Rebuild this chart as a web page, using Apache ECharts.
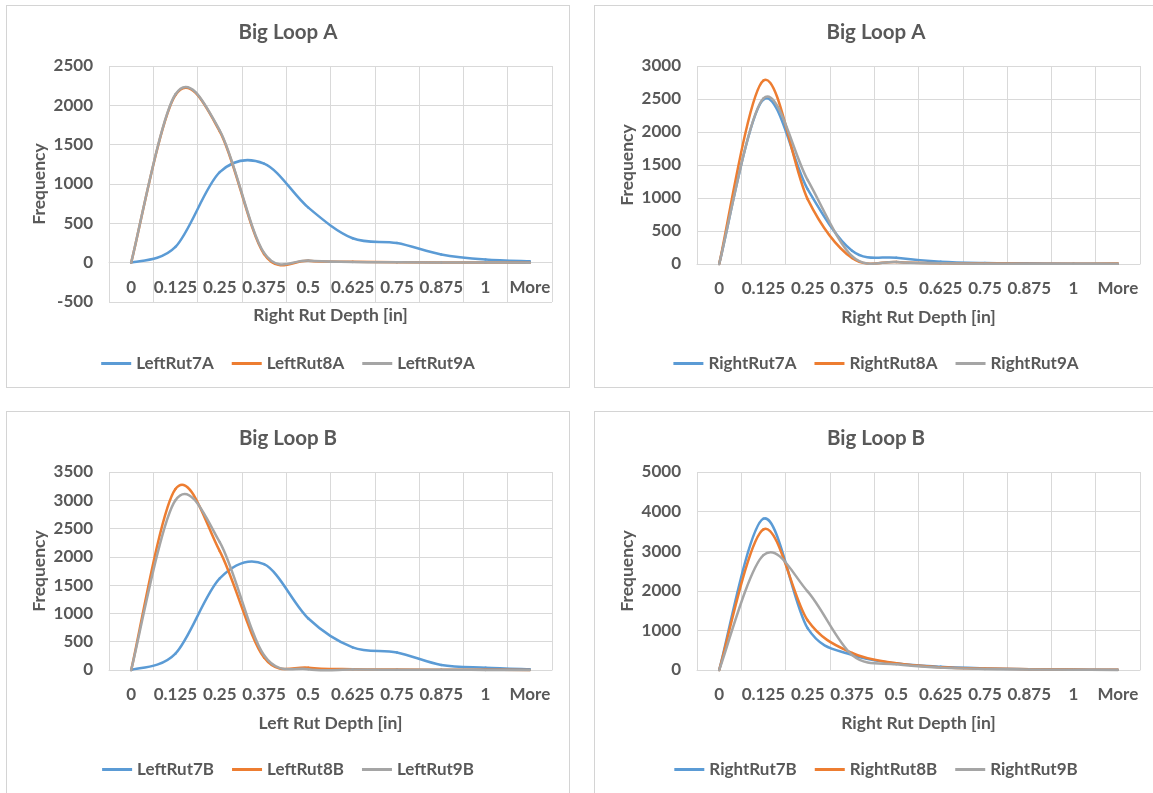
<!DOCTYPE html>
<html>
<head>
<meta charset="utf-8">
<script src="https://cdn.jsdelivr.net/npm/echarts@6/dist/echarts.min.js"></script>
<style>
  html, body { margin: 0; padding: 0; background: #fff; overflow: hidden; width: 1153px; height: 793px; }
  .panel { position: absolute; width: 564px; box-shadow: inset 0 0 0 1px #d4d4d4; }
</style>
</head>
<body>
<div id="p1" class="panel" style="left:6px;top:5px;height:383px"></div>
<div id="p2" class="panel" style="left:594px;top:5px;height:383px"></div>
<div id="p3" class="panel" style="left:6px;top:411px;height:390px"></div>
<div id="p4" class="panel" style="left:594px;top:411px;height:390px"></div>
<script>
// Rut depth bins (inches)
const categories = ['0', '0.125', '0.25', '0.375', '0.5', '0.625', '0.75', '0.875', '1', 'More'];

// Big Loop A – left rut frequencies
const leftRut7A = [0, 200, 1150, 1260, 700, 310, 250, 105, 40, 18];
const leftRut8A = [0, 2130, 1670, 110, 25, 12, 5, 2, 1, 0];
const leftRut9A = [0, 2140, 1680, 125, 28, 10, 4, 2, 1, 0];

// Big Loop A – right rut frequencies
const rightRut7A = [0, 2490, 1130, 200, 95, 35, 15, 10, 5, 5];
const rightRut8A = [0, 2780, 980, 90, 30, 10, 8, 5, 3, 8];
const rightRut9A = [0, 2510, 1270, 120, 30, 10, 5, 5, 3, 3];

// Big Loop B – left rut frequencies
const leftRut7B = [0, 290, 1620, 1870, 910, 400, 310, 90, 41, 15];
const leftRut8B = [0, 3200, 2100, 220, 40, 15, 8, 5, 3, 2];
const leftRut9B = [0, 3000, 2260, 260, 15, 8, 5, 3, 2, 1];

// Big Loop B – right rut frequencies
const rightRut7B = [0, 3820, 1050, 380, 170, 80, 40, 20, 10, 5];
const rightRut8B = [0, 3550, 1250, 430, 170, 70, 35, 20, 10, 5];
const rightRut9B = [0, 2900, 1980, 380, 143, 60, 25, 15, 8, 3];

const seriesColors = ['#5B9BD5', '#ED7D31', '#A5A5A5'];
const textColor = '#595959';
const gridColor = '#d9d9d9';
const fontFamily = 'Lato, "Noto Sans", sans-serif';

const panels = [
  { id: 'p1', title: 'Big Loop A', xName: 'Right Rut Depth [in]', yMin: -500, yMax: 2500, yStep: 500, gridHeight: 236,
    names: ['LeftRut7A', 'LeftRut8A', 'LeftRut9A'], data: [leftRut7A, leftRut8A, leftRut9A] },
  { id: 'p2', title: 'Big Loop A', xName: 'Right Rut Depth [in]', yMin: 0, yMax: 3000, yStep: 500, gridHeight: 198,
    names: ['RightRut7A', 'RightRut8A', 'RightRut9A'], data: [rightRut7A, rightRut8A, rightRut9A] },
  { id: 'p3', title: 'Big Loop B', xName: 'Left Rut Depth [in]', yMin: 0, yMax: 3500, yStep: 500, gridHeight: 198,
    names: ['LeftRut7B', 'LeftRut8B', 'LeftRut9B'], data: [leftRut7B, leftRut8B, leftRut9B] },
  { id: 'p4', title: 'Big Loop B', xName: 'Right Rut Depth [in]', yMin: 0, yMax: 5000, yStep: 1000, gridHeight: 198,
    names: ['RightRut7B', 'RightRut8B', 'RightRut9B'], data: [rightRut7B, rightRut8B, rightRut9B] }
];

// Smoothed line drawn as cubic Bézier segments through every point
// (Catmull-Rom tangents), one segment per data item, positioned with api.coord.
function smoothLineSeries(name, values, color) {
  return {
    name: name,
    type: 'custom',
    coordinateSystem: 'cartesian2d',
    data: values.map(function (v, i) { return [i, v]; }),
    encode: { x: 0, y: 1 },
    itemStyle: { color: color },
    clip: false,
    renderItem: function (params, api) {
      const i = params.dataIndex;
      if (i >= values.length - 1) return null;
      const at = function (k) {
        k = Math.max(0, Math.min(values.length - 1, k));
        return api.coord([k, values[k]]);
      };
      const p0 = at(i - 1), p1 = at(i), p2 = at(i + 1), p3 = at(i + 2);
      return {
        type: 'bezierCurve',
        shape: {
          x1: p1[0], y1: p1[1],
          cpx1: p1[0] + (p2[0] - p0[0]) / 6, cpy1: p1[1] + (p2[1] - p0[1]) / 6,
          cpx2: p2[0] - (p3[0] - p1[0]) / 6, cpy2: p2[1] - (p3[1] - p1[1]) / 6,
          x2: p2[0], y2: p2[1]
        },
        style: { stroke: color, lineWidth: 2.5, fill: 'none', lineCap: 'round' }
      };
    }
  };
}

panels.forEach(function (p) {
  const chart = echarts.init(document.getElementById(p.id), null, { renderer: 'canvas' });
  // keep the category labels on the zero line when the value range dips below zero
  const zeroOffset = -p.gridHeight * (0 - p.yMin) / (p.yMax - p.yMin);
  chart.setOption({
    animation: false,
    backgroundColor: 'transparent',
    title: {
      text: p.title,
      left: 'center',
      top: 17,
      padding: 0,
      textStyle: { color: textColor, fontFamily: fontFamily, fontWeight: 'bold', fontSize: 20.5 }
    },
    legend: {
      data: p.names,
      left: 'center',
      top: 350,
      padding: 0,
      icon: 'rect',
      itemWidth: 30,
      itemHeight: 3,
      itemGap: 18,
      textStyle: { color: textColor, fontFamily: fontFamily, fontWeight: 'bold', fontSize: 17 }
    },
    grid: { left: 103, top: 61, width: 443, height: p.gridHeight, containLabel: false },
    xAxis: {
      type: 'category',
      data: categories,
      boundaryGap: true,
      offset: zeroOffset,
      name: p.xName,
      nameLocation: 'middle',
      nameGap: 44,
      nameMoveOverlap: false,
      nameTextStyle: { color: textColor, fontFamily: fontFamily, fontWeight: 'bold', fontSize: 17.5 },
      axisLine: { show: true, onZero: false, lineStyle: { color: gridColor, width: 1 } },
      axisTick: { show: false },
      axisLabel: { interval: 0, margin: 16, color: textColor, fontFamily: fontFamily, fontWeight: 'bold', fontSize: 17 },
      splitLine: { show: true, lineStyle: { color: gridColor, width: 1 } }
    },
    yAxis: {
      type: 'value',
      min: p.yMin,
      max: p.yMax,
      interval: p.yStep,
      name: 'Frequency',
      nameLocation: 'middle',
      nameGap: 61,
      nameMoveOverlap: false,
      nameTextStyle: { color: textColor, fontFamily: fontFamily, fontWeight: 'bold', fontSize: 17.5 },
      axisLine: { show: false },
      axisTick: { show: false },
      axisLabel: {
        margin: 16, color: textColor, fontFamily: fontFamily, fontWeight: 'bold', fontSize: 17,
        formatter: function (v) { return String(v); }
      },
      splitLine: { show: true, lineStyle: { color: gridColor, width: 1 } }
    },
    series: p.names.map(function (name, i) {
      return smoothLineSeries(name, p.data[i], seriesColors[i]);
    })
  });
});
</script>
</body>
</html>
